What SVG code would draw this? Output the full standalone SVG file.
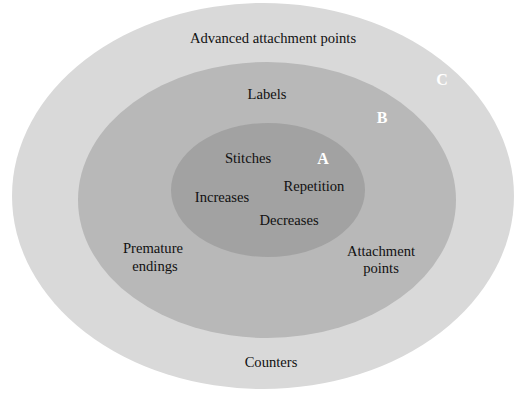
<svg xmlns="http://www.w3.org/2000/svg" width="516" height="394" viewBox="0 0 516 394">
<style>
text{font-family:"Liberation Serif","Times New Roman",serif;font-size:14.6px;fill:#111;text-anchor:middle}
.lt{font-weight:bold;font-size:16px;fill:#fff}
</style>
<rect width="516" height="394" fill="#fff"/>
<g id="C">
<ellipse cx="263" cy="196" rx="251" ry="193" fill="#d9d9d9"/>
<text x="273" y="43">Advanced attachment points</text>
<text class="lt" x="442" y="85">C</text>
<text x="271" y="367">Counters</text>
</g>
<g id="B">
<ellipse cx="267" cy="200" rx="189" ry="138" fill="#b8b8b8"/>
<text x="267" y="99">Labels</text>
<text class="lt" x="382" y="123">B</text>
<text x="153" y="253">Premature</text>
<text x="155" y="271">endings</text>
<text x="381" y="256">Attachment</text>
<text x="381" y="273">points</text>
</g>
<g id="A">
<ellipse cx="268" cy="190" rx="97" ry="67" fill="#a2a2a2"/>
<text class="lt" x="323" y="164">A</text>
<text x="248" y="163">Stitches</text>
<text x="314" y="191">Repetition</text>
<text x="222" y="202">Increases</text>
<text x="289" y="225">Decreases</text>
</g>
<g id="connectors"/>
</svg>
